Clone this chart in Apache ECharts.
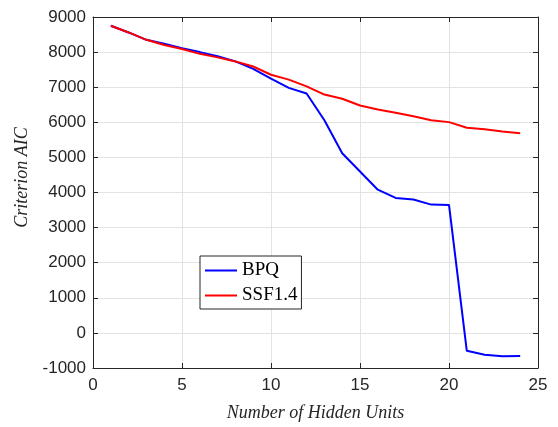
<!DOCTYPE html>
<html>
<head>
<meta charset="utf-8">
<script src="https://cdn.jsdelivr.net/npm/echarts@6/dist/echarts.min.js"></script>
<style>html,body{margin:0;padding:0;background:#fff}#c{width:558px;height:427px}</style>
</head>
<body>
<div id="c"></div>
<script>
const units = [1,2,3,4,5,6,7,8,9,10,11,12,13,14,15,16,17,18,19,20,21,22,23,24];
const bpq = [8750,8560,8350,8240,8110,8000,7880,7735,7520,7245,6980,6820,6060,5120,4600,4080,3845,3800,3655,3645,-510,-620,-665,-660];
const ssf = [8750,8560,8350,8200,8090,7950,7850,7735,7590,7355,7215,7025,6790,6670,6480,6365,6270,6175,6060,6005,5845,5800,5740,5685];
const xTicks = [0,5,10,15,20,25];
const yTicks = [-1000,0,1000,2000,3000,4000,5000,6000,7000,8000,9000];

const chart = echarts.init(document.getElementById('c'));
const axisCol = '#262626';
const gridCol = '#e3e3e3';
const labelStyle = {color: axisCol, fontFamily: 'Liberation Sans, Arial', fontSize: 17};
const nameStyle = {color: axisCol, fontFamily: 'Liberation Serif, Times New Roman', fontSize: 18, fontStyle: 'italic'};
const plain = v => String(v);
chart.setOption({
  animation: false,
  backgroundColor: '#fff',
  grid: {left: 93, right: 20, top: 17, bottom: 57},
  legend: {
    left: 200, top: 256, orient: 'vertical',
    itemWidth: 32, itemHeight: 2, itemGap: 6,
    padding: [5, 4, 4, 5],
    borderColor: '#262626', borderWidth: 1, backgroundColor: '#fff',
    icon: 'rect',
    textStyle: {fontFamily: 'Liberation Serif, Times New Roman', fontSize: 19, color: '#000'},
    data: ['BPQ', 'SSF1.4']
  },
  xAxis: [{
    type: 'value', min: xTicks[0], max: xTicks[xTicks.length-1], interval: 5,
    name: 'Number of Hidden Units', nameLocation: 'middle', nameGap: 36, nameTextStyle: nameStyle,
    axisLine: {show: true, onZero: false, lineStyle: {color: axisCol, width: 1}},
    axisTick: {show: true, inside: true, length: 5, lineStyle: {color: axisCol}},
    axisLabel: Object.assign({margin: 9, formatter: plain}, labelStyle),
    splitLine: {show: true, lineStyle: {color: gridCol, width: 1}}
  }, {
    type: 'value', position: 'top', min: xTicks[0], max: xTicks[xTicks.length-1], interval: 5,
    axisLine: {show: true, onZero: false, lineStyle: {color: axisCol, width: 1}},
    axisTick: {show: true, inside: true, length: 5, lineStyle: {color: axisCol}},
    axisLabel: {show: false}, splitLine: {show: false}
  }],
  yAxis: [{
    type: 'value', min: yTicks[0], max: yTicks[yTicks.length-1], interval: 1000,
    name: 'Criterion AIC', nameLocation: 'middle', nameGap: 62, nameTextStyle: Object.assign({padding:[0,0,0,30]}, nameStyle),
    axisLine: {show: true, onZero: false, lineStyle: {color: axisCol, width: 1}},
    axisTick: {show: true, inside: true, length: 5, lineStyle: {color: axisCol}},
    axisLabel: Object.assign({margin: 7, formatter: plain}, labelStyle),
    splitLine: {show: true, lineStyle: {color: gridCol, width: 1}}
  }, {
    type: 'value', position: 'right', min: yTicks[0], max: yTicks[yTicks.length-1], interval: 1000,
    axisLine: {show: true, onZero: false, lineStyle: {color: axisCol, width: 1}},
    axisTick: {show: true, inside: true, length: 5, lineStyle: {color: axisCol}},
    axisLabel: {show: false}, splitLine: {show: false}
  }],
  series: [
    {name: 'BPQ', type: 'line', data: units.map((u,i)=>[u,bpq[i]]), showSymbol: false, symbol: 'none',
     lineStyle: {color: '#0000ff', width: 2}, itemStyle: {color: '#0000ff'}},
    {name: 'SSF1.4', type: 'line', data: units.map((u,i)=>[u,ssf[i]]), showSymbol: false, symbol: 'none',
     lineStyle: {color: '#ff0000', width: 2}, itemStyle: {color: '#ff0000'}}
  ]
});
</script>
</body>
</html>
